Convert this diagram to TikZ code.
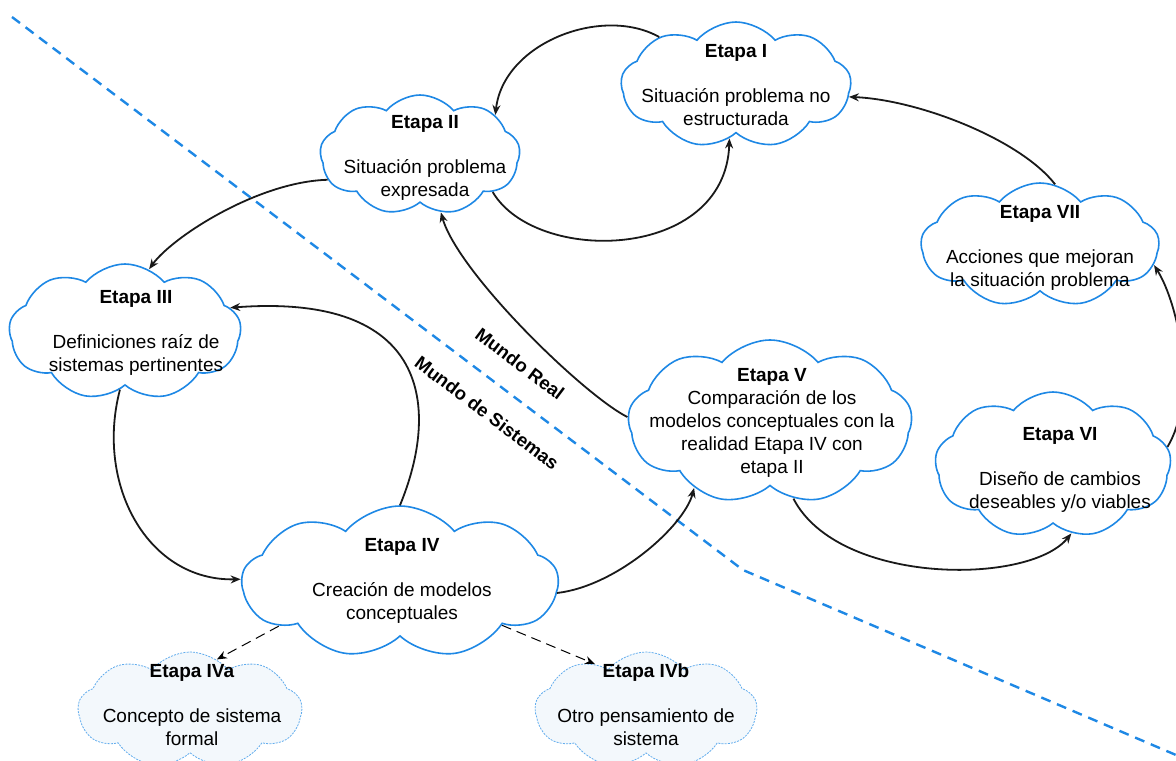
\documentclass[tikz,border=0pt]{standalone}
\usepackage{fontspec}
\setmainfont{Liberation Sans}
\usetikzlibrary{shapes.symbols,arrows.meta}
\definecolor{cloudblue}{RGB}{30,136,229}
\definecolor{paleblue}{RGB}{243,248,252}

\begin{document}
\begin{tikzpicture}[x=0.5pt,y=-0.5pt,
    etapa/.style={cloud, cloud puffs=9, cloud puff arc=100, cloud ignores aspect,
        draw=cloudblue, line width=0.8pt, fill=white, inner sep=0pt},
    subetapa/.style={etapa, fill=paleblue, draw=cloudblue!70, line width=0.4pt,
        dash pattern=on 1pt off 0.6pt},
    txt/.style={align=center, font=\fontsize{9.5}{11.5}\selectfont},
    flow/.style={-{Stealth[length=5pt,width=4pt]}, line width=0.9pt, black!90},
    aux/.style={-{Stealth[length=5pt,width=4pt]}, line width=0.5pt, dash pattern=on 5pt off 3pt},
    divider/.style={cloudblue, line width=1.2pt, dash pattern=on 5pt off 3.5pt}]
    \useasboundingbox (0,0) rectangle (1176,760);

    % frontera entre los dos mundos
    \coordinate (d0) at (12,17);
    \coordinate (d1) at (743,570);
    \coordinate (d2) at (1176,755);
    \draw[divider] (d0) -- (d1) -- (d2);
    \node[font=\bfseries\fontsize{9.3}{11}\selectfont, rotate=-37, inner sep=1pt] (mreal) at (520,364) {Mundo Real};
    \node[font=\bfseries\fontsize{9.3}{11}\selectfont, rotate=-37, inner sep=1pt] (msist) at (487,413) {Mundo de Sistemas};

    % etapas
    \node[etapa, minimum width=115pt, minimum height=63pt] (e1) at (736,85) {};
    \node[etapa, minimum width=100pt, minimum height=60pt] (e2) at (420,155) {};
    \node[etapa, minimum width=116pt, minimum height=68pt] (e3) at (125,332) {};
    \node[etapa, minimum width=158pt, minimum height=76pt] (e4) at (400,582) {};
    \node[subetapa, minimum width=112pt, minimum height=58pt] (e4a) at (190,710) {};
    \node[subetapa, minimum width=111pt, minimum height=58pt] (e4b) at (646,710) {};
    \node[etapa, minimum width=142pt, minimum height=82pt] (e5) at (770,422) {};
    \node[etapa, minimum width=118pt, minimum height=73pt] (e6) at (1053,465) {};
    \node[etapa, minimum width=119pt, minimum height=62pt] (e7) at (1040,245) {};

    \node[txt] (t1) at (e1) {\textbf{Etapa I}\\[11pt]Situación problema no\\estructurada};
    \node[txt] (t2) at (425,158) {\textbf{Etapa II}\\[11pt]Situación problema\\expresada};
    \node[txt] (t3) at (136,333) {\textbf{Etapa III}\\[11pt]Definiciones raíz de\\sistemas pertinentes};
    \node[txt] (t4) at (402,581) {\textbf{Etapa IV}\\[11pt]Creación de modelos\\conceptuales};
    \node[txt] (t4a) at (192,705) {\textbf{Etapa IVa}\\[11pt]Concepto de sistema\\formal};
    \node[txt] (t4b) at (646,705) {\textbf{Etapa IVb}\\[11pt]Otro pensamiento de\\sistema};
    \node[txt] (t5) at (772,423) {\textbf{Etapa V}\\Comparación de los\\modelos conceptuales con la\\realidad Etapa IV con\\etapa II};
    \node[txt] (t6) at (1060,470) {\textbf{Etapa VI}\\[11pt]Diseño de cambios\\deseables y/o viables};
    \node[txt] (t7) at (1040,248) {\textbf{Etapa VII}\\[11pt]Acciones que mejoran\\la situación problema};

    % flujo entre etapas
    \draw[flow] (e1.148) .. controls +(-57,-32) and +(8,-72) .. (e2.28);
    \draw[flow] (e2.333) .. controls +(43,73) and +(-4,123) .. (e1.263);
    \draw[flow] (e2.195) .. controls +(-70,2) and +(23,-32) .. (e3.69);
    \draw[flow] (e4.90) .. controls +(40,-97) and +(200,-15) .. (e3.13);
    \draw[flow] (e3.265) .. controls +(-25,95) and +(-93,2) .. (e4.179);
    \draw[flow] (e4.356) .. controls +(60,-7) and +(-10,38) .. (e5.221);
    \draw[flow] (e5.178) .. controls +(-45,-23) and +(17,60) .. (e2.290);
    \draw[flow] (e5.287) .. controls +(45,87) and +(-42,52) .. (e6.285);
    \draw[flow] (e6.9) .. controls +(30,-50) and +(25,40) .. (e7.350);
    \draw[flow] (e7.76) .. controls +(-35,-45) and +(70,3) .. (e1.354);
    \draw[aux] (e4.200) -- (e4a.62);
    \draw[aux] (e4.337) -- (e4b.138);
\end{tikzpicture}
\end{document}
